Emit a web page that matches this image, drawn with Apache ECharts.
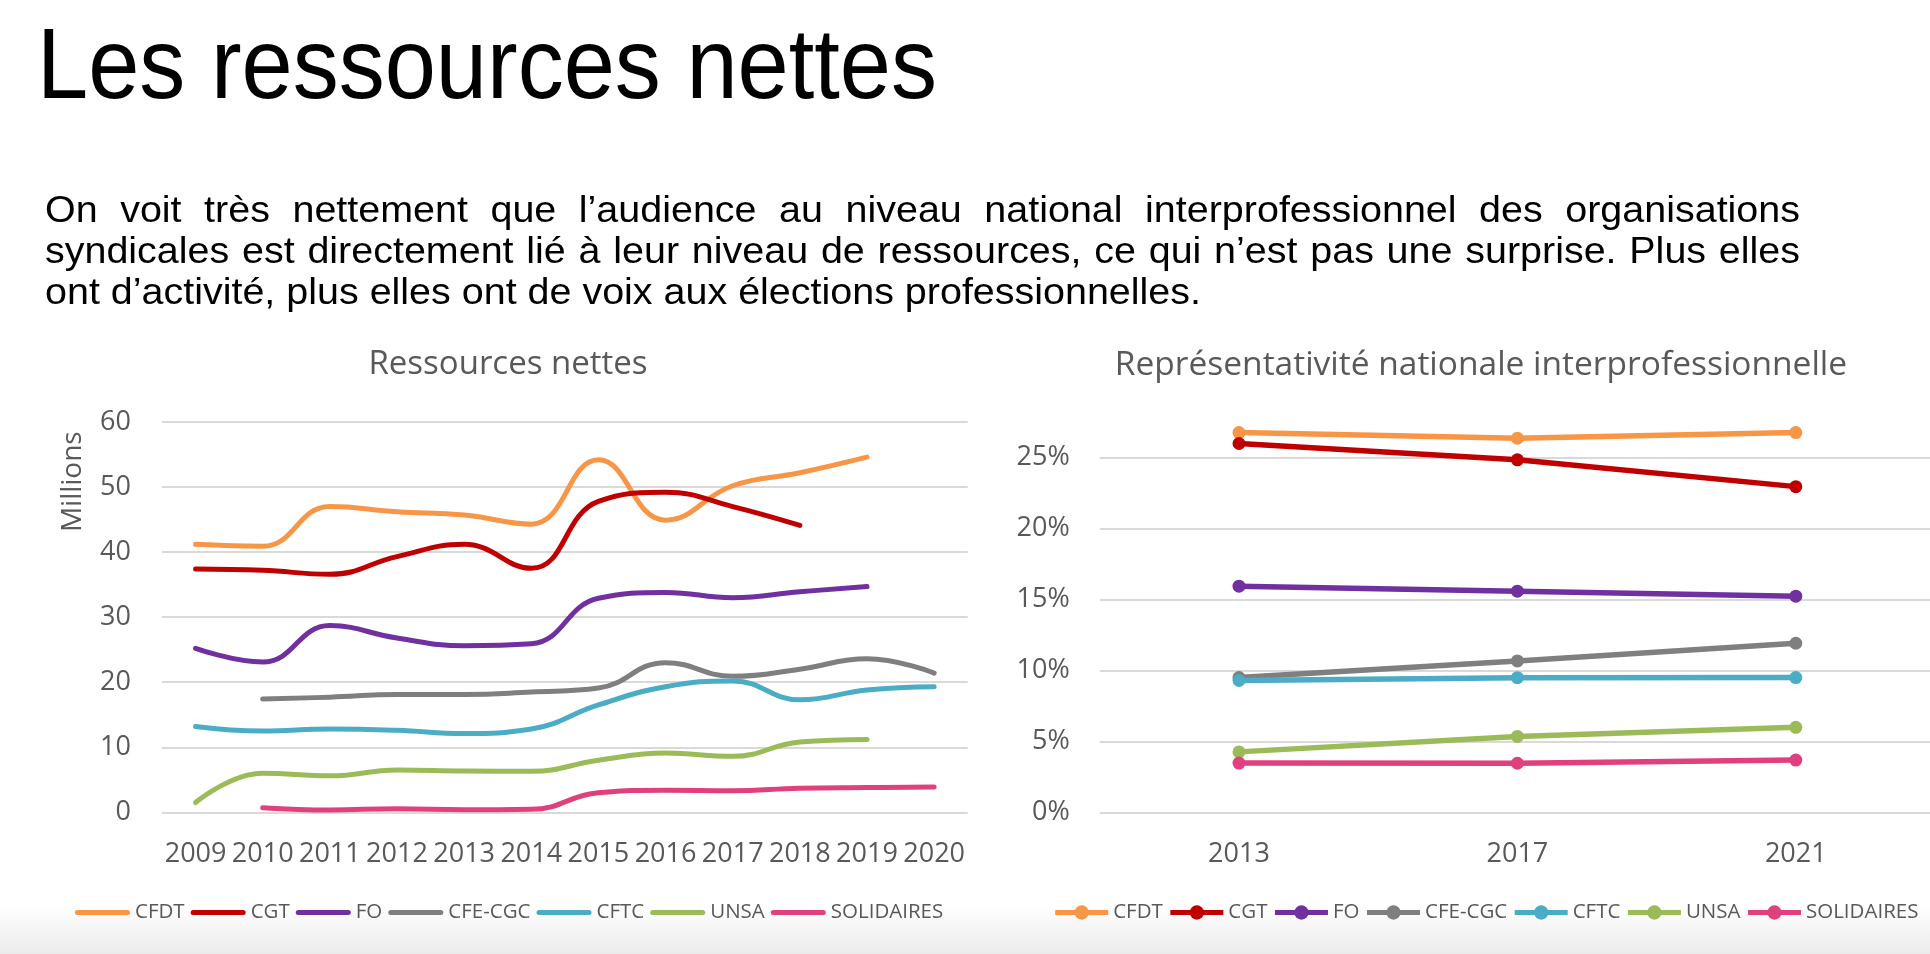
<!DOCTYPE html>
<html>
<head>
<meta charset="utf-8">
<script src="https://cdn.jsdelivr.net/npm/echarts@6/dist/echarts.min.js"></script>
<style>
html,body{margin:0;padding:0;background:#fff;overflow:hidden;}
#chart{position:absolute;left:0;top:0;width:1930px;height:954px;}
#heading{position:absolute;left:37px;top:13px;font-family:'Liberation Sans',Arial,sans-serif;font-size:100px;line-height:100px;white-space:nowrap;transform-origin:0 0;color:#000;z-index:2;}
#para{position:absolute;left:45px;top:189px;font-family:'Liberation Sans',Arial,sans-serif;font-size:36px;line-height:41px;color:#000;transform-origin:0 0;z-index:2;}
#para .j{text-align:justify;text-align-last:justify;white-space:nowrap;}
#para .l{white-space:nowrap;}
</style>
</head>
<body>
<div id="chart"></div>
<div id="heading"><span id="hs">Les ressources nettes</span></div>
<div id="para">
  <div class="j">On voit très nettement que l’audience au niveau national interprofessionnel des organisations</div>
  <div class="j">syndicales est directement lié à leur niveau de ressources, ce qui n’est pas une surprise. Plus elles</div>
  <div class="l"><span id="l3">ont d’activité, plus elles ont de voix aux élections professionnelles.</span></div>
</div>
<script>
// ---------- data ----------
const orgs = ['CFDT', 'CGT', 'FO', 'CFE-CGC', 'CFTC', 'UNSA', 'SOLIDAIRES'];
const colors = ['#F79646', '#C00000', '#7030A0', '#7F7F7F', '#4BACC6', '#9BBB59', '#E0407E'];

// Ressources nettes (millions)
const years = ['2009','2010','2011','2012','2013','2014','2015','2016','2017','2018','2019','2020'];
const resCFDT      = [41.2, 40.9, 47.0, 46.2, 45.7, 44.3, 54.2, 44.9, 50.2, 52.2, 54.6, null];
const resCGT       = [37.4, 37.2, 36.6, 39.3, 41.2, 37.5, 47.8, 49.2, 47.0, 44.1, null, null];
const resFO        = [25.2, 23.1, 28.7, 26.8, 25.6, 25.9, 32.9, 33.8, 33.0, 33.9, 34.7, null];
const resCFECGC    = [null, 17.4, 17.7, 18.1, 18.1, 18.5, 19.1, 23.0, 20.9, 22.0, 23.6, 21.4];
const resCFTC      = [13.2, 12.5, 12.8, 12.6, 12.1, 12.8, 16.5, 19.3, 20.2, 17.3, 18.8, 19.3];
const resUNSA      = [1.5, 6.0, 5.6, 6.5, 6.35, 6.3, 8.0, 9.1, 8.6, 10.8, 11.2, null];
const resSOLIDAIRES= [null, 0.7, 0.35, 0.55, 0.4, 0.45, 3.0, 3.4, 3.3, 3.7, 3.8, 3.9];
const resTicks = [0, 10, 20, 30, 40, 50, 60];

// Représentativité nationale interprofessionnelle (%)
const elecYears = ['2013', '2017', '2021'];
const repCFDT       = [26.77, 26.37, 26.77];
const repCGT        = [26.00, 24.85, 22.96];
const repFO         = [15.94, 15.59, 15.24];
const repCFECGC     = [9.50, 10.67, 11.92];
const repCFTC       = [9.30, 9.49, 9.50];
const repUNSA       = [4.26, 5.35, 5.99];
const repSOLIDAIRES = [3.47, 3.46, 3.68];
const repTicks = [0, 5, 10, 15, 20, 25];

const resData = [resCFDT, resCGT, resFO, resCFECGC, resCFTC, resUNSA, resSOLIDAIRES];
const repData = [repCFDT, repCGT, repFO, repCFECGC, repCFTC, repUNSA, repSOLIDAIRES];

// ---------- text fitting ----------
(function () {
  const hs = document.getElementById('hs');
  const hw = hs.getBoundingClientRect().width;
  document.getElementById('heading').style.transform = 'scaleX(' + (900 / hw) + ')';
  const l3 = document.getElementById('l3');
  const w3 = l3.getBoundingClientRect().width;
  const s = 1156 / w3;
  const para = document.getElementById('para');
  para.style.width = (1755 / s) + 'px';
  para.style.transform = 'scaleX(' + s + ')';
})();

// ---------- chart ----------
const FONT = "'Open Sans', 'Noto Sans', sans-serif";
const LABEL = '#595959';
const GRIDC = '#d9d9d9';
const CAPSULE = 'path://M2.5,0 L52.5,0 A2.5,2.5 0 0 1 52.5,5 L2.5,5 A2.5,2.5 0 0 1 2.5,0 Z';

const chart = echarts.init(document.getElementById('chart'), null, { renderer: 'canvas' });

const series = [];
orgs.forEach((o, i) => {
  series.push({
    name: o, type: 'line', xAxisIndex: 0, yAxisIndex: 0,
    data: resData[i], smooth: 0.45, symbol: 'none', showSymbol: false,
    lineStyle: { width: 5, color: colors[i], cap: 'round', join: 'round' },
    itemStyle: { color: colors[i] }, clip: false
  });
});
orgs.forEach((o, i) => {
  series.push({
    name: o + '|r', type: 'line', xAxisIndex: 1, yAxisIndex: 1,
    data: repData[i], symbol: 'circle', symbolSize: 13,
    lineStyle: { width: 5.5, color: colors[i] },
    itemStyle: { color: colors[i] }, clip: false
  });
});

const option = {
  backgroundColor: '#ffffff',
  animation: false,
  graphic: [
    { type: 'rect', z: 0, silent: true,
      shape: { x: 0, y: 905, width: 1930, height: 49 },
      style: { fill: new echarts.graphic.LinearGradient(0, 0, 0, 1, [
        { offset: 0, color: '#ffffff' }, { offset: 1, color: '#ebebeb' }]) } },
    { type: 'text', x: 508, y: 365, z: 5,
      style: { text: 'Ressources nettes', font: "33px " + FONT, fill: LABEL,
        align: 'center', verticalAlign: 'middle', textAlign: 'center', textVerticalAlign: 'middle' } },
    { type: 'text', x: 1481, y: 365, z: 5,
      style: { text: 'Représentativité nationale interprofessionnelle', font: "33.5px " + FONT, fill: LABEL,
        align: 'center', verticalAlign: 'middle', textAlign: 'center', textVerticalAlign: 'middle' } },
    { type: 'text', x: 72.7, y: 481.7, rotation: Math.PI / 2, z: 5,
      style: { text: 'Millions', font: "28px " + FONT, fill: LABEL,
        align: 'center', verticalAlign: 'middle', textAlign: 'center', textVerticalAlign: 'middle' } }
  ],
  grid: [
    { left: 162, top: 422, width: 805.7, height: 390.3, outerBoundsMode: 'none', containLabel: false },
    { left: 1099.8, top: 457.7, width: 835.2, height: 354.6, outerBoundsMode: 'none', containLabel: false }
  ],
  xAxis: [
    { type: 'category', gridIndex: 0, data: years, boundaryGap: true,
      axisLine: { show: false }, axisTick: { show: false },
      axisLabel: { color: LABEL, fontFamily: FONT, fontSize: 27, margin: 29, interval: 0 } },
    { type: 'category', gridIndex: 1, data: elecYears, boundaryGap: true,
      axisLine: { show: false }, axisTick: { show: false },
      axisLabel: { color: LABEL, fontFamily: FONT, fontSize: 27, margin: 29, interval: 0 } }
  ],
  yAxis: [
    { type: 'value', gridIndex: 0, min: resTicks[0], max: resTicks[resTicks.length - 1], interval: 10,
      axisLine: { show: false }, axisTick: { show: false },
      splitLine: { lineStyle: { color: GRIDC, width: 2 } },
      axisLabel: { color: LABEL, fontFamily: FONT, fontSize: 27, margin: 31 } },
    { type: 'value', gridIndex: 1, min: repTicks[0], max: repTicks[repTicks.length - 1], interval: 5,
      axisLine: { show: false }, axisTick: { show: false },
      splitLine: { lineStyle: { color: GRIDC, width: 2 } },
      axisLabel: { color: LABEL, fontFamily: FONT, fontSize: 27, margin: 30, formatter: '{value}%' } }
  ],
  legend: [
    { data: orgs.map(o => ({ name: o, icon: CAPSULE })), left: 75, top: 902, padding: 0, width: 1000,
      itemWidth: 55, itemHeight: 18, itemGap: 6, symbolKeepAspect: true,
      textStyle: { color: LABEL, fontFamily: FONT, fontSize: 20.5 }, selectedMode: false },
    { data: orgs.map(o => o + '|r'), left: 1052.7, top: 902, padding: 0, width: 1000,
      itemWidth: 53, itemHeight: 18, itemGap: 5,
      lineStyle: { width: 5 },
      formatter: n => n.split('|')[0],
      textStyle: { color: LABEL, fontFamily: FONT, fontSize: 20.5 }, selectedMode: false }
  ],
  series: series
};
chart.setOption(option);
</script>
</body>
</html>
